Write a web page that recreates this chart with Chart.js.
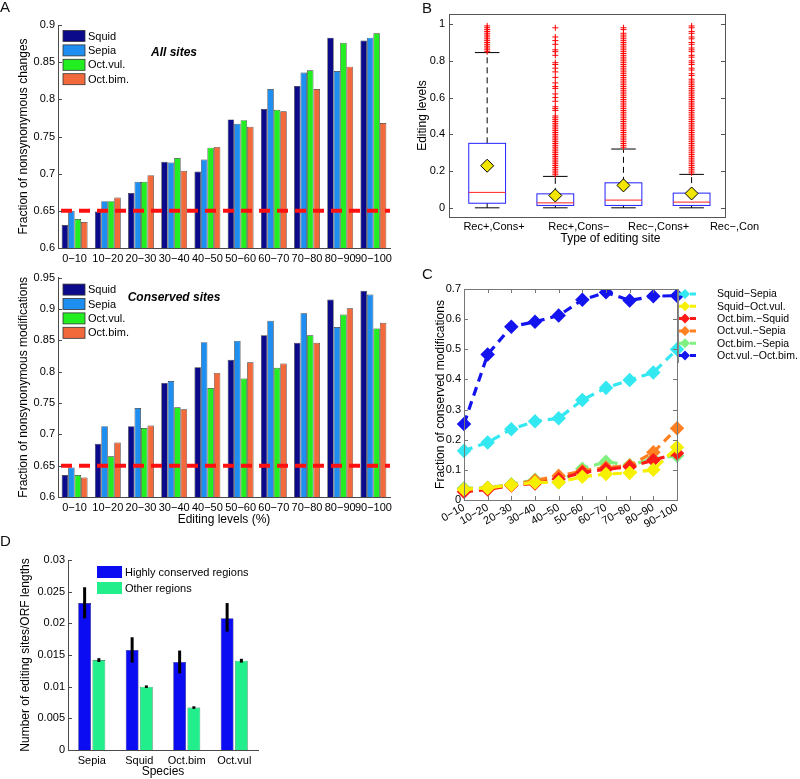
<!DOCTYPE html>
<html><head><meta charset="utf-8">
<script src="https://cdn.jsdelivr.net/npm/chart.js@4/dist/chart.umd.min.js"></script>
<style>
body{margin:0;background:#fff;}
#wrap{position:relative;width:800px;height:779px;overflow:hidden;background:#fff;font-family:'Liberation Sans',Arial,sans-serif}
canvas{position:absolute}
.lab{position:absolute;font-size:15px;line-height:15px;color:#111}
</style></head><body>
<div id="wrap">
<canvas id="cA1" width="400" height="268" style="left:0;top:0"></canvas>
<canvas id="cA2" width="400" height="262" style="left:0;top:268px"></canvas>
<canvas id="cB" width="400" height="250" style="left:400px;top:0"></canvas>
<canvas id="cC" width="400" height="280" style="left:400px;top:250px"></canvas>
<canvas id="cD" width="400" height="249" style="left:0;top:530px"></canvas>
<div class="lab" style="left:0;top:-1px">A</div>
<div class="lab" style="left:422px;top:0px">B</div>
<div class="lab" style="left:422px;top:266px">C</div>
<div class="lab" style="left:0;top:533px">D</div>
</div>
<script>
// ---------- DATA ----------
const bins = ['0−10','10−20','20−30','30−40','40−50','50−60','60−70','70−80','80−90','90−100'];
const speciesA = ['Squid','Sepia','Oct.vul.','Oct.bim.'];
const allSquid  = [0.631,0.649,0.674,0.716,0.703,0.773,0.787,0.818,0.883,0.879];
const allSepia  = [0.650,0.663,0.689,0.715,0.719,0.767,0.814,0.836,0.838,0.883];
const allOctVul = [0.639,0.663,0.689,0.721,0.735,0.772,0.786,0.839,0.876,0.889];
const allOctBim = [0.635,0.668,0.698,0.704,0.736,0.763,0.784,0.814,0.844,0.768];
const consSquid  = [0.635,0.685,0.713,0.782,0.807,0.819,0.858,0.846,0.915,0.929];
const consSepia  = [0.647,0.713,0.742,0.785,0.847,0.849,0.881,0.893,0.871,0.923];
const consOctVul = [0.635,0.665,0.710,0.743,0.774,0.789,0.806,0.858,0.891,0.869];
const consOctBim = [0.631,0.687,0.714,0.740,0.798,0.815,0.813,0.846,0.901,0.878];
const refLevel = 0.65;

const siteTypes = ['Rec+,Cons+','Rec+,Cons−','Rec−,Cons+','Rec−,Con'];
const siteLabelPos = [1.10,2.345,3.516,4.63];
const boxLo   = [0,0,0,0];
const boxQ1   = [0.025,0.013,0.013,0.013];
const boxMed  = [0.084,0.027,0.042,0.031];
const boxQ3   = [0.351,0.076,0.136,0.080];
const boxHi   = [0.845,0.171,0.320,0.182];
const boxMean = [0.229,0.067,0.122,0.078];
const yTicksB = [0,0.2,0.4,0.6,0.8,1];
const out1 = [0.85,0.86,0.87,0.88,0.89,0.90,0.91,0.92,0.93,0.94,0.95,0.96,0.97,0.98,0.99];
const out2 = [0.18,0.19,0.20,0.21,0.22,0.23,0.24,0.25,0.26,0.27,0.28,0.29,0.30,0.31,0.32,0.33,0.34,0.35,0.36,0.37,0.38,0.39,0.40,0.41,0.42,0.43,0.44,0.45,0.46,0.47,0.48,0.49,0.50,0.53,0.54,0.55,0.58,0.60,0.62,0.65,0.66,0.68,0.71,0.74,0.76,0.78,0.79,0.83,0.85,0.86,0.89,0.91,0.93,0.98];
const out3 = [0.33,0.34,0.35,0.36,0.37,0.38,0.39,0.40,0.41,0.42,0.43,0.44,0.45,0.46,0.47,0.48,0.49,0.50,0.51,0.52,0.53,0.54,0.55,0.56,0.57,0.58,0.59,0.60,0.61,0.62,0.63,0.64,0.65,0.66,0.67,0.68,0.69,0.70,0.71,0.72,0.73,0.74,0.75,0.76,0.77,0.78,0.79,0.80,0.81,0.82,0.83,0.84,0.85,0.86,0.87,0.88,0.89,0.90,0.91,0.92,0.93,0.94,0.95,0.97,0.98];
const out4 = [0.19,0.20,0.21,0.22,0.23,0.24,0.25,0.26,0.27,0.28,0.29,0.30,0.31,0.32,0.33,0.34,0.35,0.36,0.37,0.38,0.39,0.40,0.41,0.42,0.43,0.44,0.45,0.46,0.47,0.48,0.49,0.50,0.51,0.52,0.53,0.54,0.55,0.56,0.57,0.58,0.59,0.60,0.61,0.62,0.63,0.64,0.65,0.66,0.67,0.68,0.69,0.70,0.72,0.73,0.75,0.76,0.78,0.79,0.80,0.82,0.83,0.85,0.86,0.87,0.89,0.90,0.92,0.93,0.95,0.96,0.98,0.99];

const pairLabels = ['Squid−Sepia','Squid−Oct.vul.','Oct.bim.−Squid','Oct.vul.−Sepia','Oct.bim.−Sepia','Oct.vul.−Oct.bim.'];
const squidSepia   = [0.163,0.191,0.235,0.261,0.271,0.332,0.372,0.398,0.423,0.500];
const squidOctVul  = [0.035,0.040,0.050,0.058,0.059,0.077,0.086,0.090,0.100,0.175];
const octBimSquid  = [0.027,0.035,0.048,0.055,0.070,0.091,0.102,0.110,0.132,0.155];
const octVulSepia  = [0.035,0.040,0.050,0.065,0.080,0.096,0.108,0.114,0.158,0.238];
const octBimSepia  = [0.039,0.041,0.052,0.067,0.059,0.104,0.127,0.116,0.136,0.147];
const octVulOctBim = [0.252,0.483,0.575,0.591,0.612,0.664,0.689,0.662,0.676,0.678];

const speciesD = ['Sepia','Squid','Oct.bim','Oct.vul'];
const regionLabels = ['Highly conserved regions','Other regions'];
const consRate  = [0.0232,0.0158,0.0139,0.0208];
const consErrLo = [0.0208,0.0138,0.0121,0.0187];
const consErrHi = [0.0257,0.0178,0.0157,0.0232];
const otherRate  = [0.0142,0.0100,0.0067,0.0141];
const otherErrLo = [0.0139,0.0098,0.0065,0.0138];
const otherErrHi = [0.0145,0.0102,0.0069,0.0144];

// ---------- STYLE ----------
const FONT = "'Liberation Sans', Arial, Helvetica, sans-serif";
Chart.defaults.font.family = FONT;
Chart.defaults.font.size = 11;
Chart.defaults.color = '#000';
const AX = '#4a4a4a';
const colA = ['#0a0a8a','#1e8ff0','#22ee22','#f26a3c'];
const colC = ['#33e8f0','#f7f000','#ff1a1a','#ff8020','#80f080','#1414f0'];
const fmt = v => String(Math.round(v*10000)/10000);
const noGrid = {display:false, drawTicks:false};

// ---------- PLUGINS ----------
const refLine = {id:'refLine', afterDatasetsDraw(chart,a,o){
  const {ctx, chartArea:ca, scales:{y}} = chart; const py = y.getPixelForValue(o.value);
  ctx.save(); ctx.strokeStyle=o.color; ctx.lineWidth=o.width; ctx.setLineDash(o.dash);
  ctx.beginPath(); ctx.moveTo(ca.left+3,py); ctx.lineTo(ca.right,py); ctx.stroke(); ctx.restore();
}};
const boxLegend = {id:'boxLegend', afterDraw(chart,a,o){
  const {ctx, chartArea:ca} = chart; ctx.save();
  chart.data.datasets.forEach((ds,i)=>{
    const x = ca.left+o.x, y = ca.top+o.y+i*o.dy;
    ctx.fillStyle = ds.backgroundColor; ctx.fillRect(x,y-o.h/2,o.w,o.h);
    if(o.stroke){ctx.strokeStyle=o.stroke; ctx.lineWidth=0.8; ctx.strokeRect(x,y-o.h/2,o.w,o.h);}
    ctx.fillStyle='#000'; ctx.font=o.fontStr; ctx.textBaseline='middle'; ctx.textAlign='left';
    ctx.fillText(ds.label, x+o.w+3, y+0.5);
  });
  if(o.title){ ctx.font='italic bold 12px '+FONT; ctx.textAlign='center'; ctx.textBaseline='middle';
    ctx.fillText(o.title, ca.left+o.tx, ca.top+o.ty); }
  ctx.restore();
}};
const inTicks = {id:'inTicks', afterDraw(chart,a,o){
  const {ctx, chartArea:ca, scales} = chart; const L=o.len||4; ctx.save();
  ctx.strokeStyle=o.color||AX; ctx.lineWidth=1;
  if(o.frame){ctx.strokeRect(Math.round(ca.left)+0.5,Math.round(ca.top)+0.5,Math.round(ca.right-ca.left),Math.round(ca.bottom-ca.top));}
  const y=scales.y; ctx.beginPath();
  y.ticks.forEach((t,i)=>{const py=Math.round(y.getPixelForValue(t.value))+0.5;
    ctx.moveTo(ca.left,py); ctx.lineTo(ca.left+L,py);
    if(o.right){ctx.moveTo(ca.right,py); ctx.lineTo(ca.right-L,py);} });
  if(o.xticks){const x=scales.x; x.ticks.forEach((t,i)=>{const px=Math.round(x.getPixelForTick(i))+0.5;
    ctx.moveTo(px,ca.bottom); ctx.lineTo(px,ca.bottom-L);
    if(o.frame){ctx.moveTo(px,ca.top); ctx.lineTo(px,ca.top+L);} });}
  ctx.stroke(); ctx.restore();
}};
const boxPlot = {id:'boxPlot', beforeDatasetsDraw(chart){
  const {ctx, scales:{x,y}} = chart; ctx.save();
  const hw = (x.getPixelForValue(1.27)-x.getPixelForValue(1));
  const cw = (x.getPixelForValue(1.18)-x.getPixelForValue(1));
  boxQ1.forEach((q1,i)=>{
    const cx = x.getPixelForValue(i+1);
    const pLo=y.getPixelForValue(boxLo[i]), pQ1=y.getPixelForValue(q1), pMed=y.getPixelForValue(boxMed[i]),
          pQ3=y.getPixelForValue(boxQ3[i]), pHi=y.getPixelForValue(boxHi[i]);
    ctx.strokeStyle='#000'; ctx.lineWidth=1; ctx.setLineDash([6,4]);
    ctx.beginPath(); ctx.moveTo(cx,pQ3); ctx.lineTo(cx,pHi); ctx.moveTo(cx,pQ1); ctx.lineTo(cx,pLo); ctx.stroke();
    ctx.setLineDash([]);
    ctx.beginPath(); ctx.moveTo(cx-cw,pHi); ctx.lineTo(cx+cw,pHi); ctx.moveTo(cx-cw,pLo); ctx.lineTo(cx+cw,pLo); ctx.stroke();
    ctx.strokeStyle='#2020ff'; ctx.strokeRect(cx-hw,pQ3,2*hw,pQ1-pQ3);
    ctx.strokeStyle='#ff2020'; ctx.beginPath(); ctx.moveTo(cx-hw,pMed); ctx.lineTo(cx+hw,pMed); ctx.stroke();
  });
  ctx.restore();
}, afterDraw(chart){
  const {ctx, chartArea:ca, scales:{x}} = chart; ctx.save();
  ctx.fillStyle='#000'; ctx.font='11px '+FONT; ctx.textAlign='center'; ctx.textBaseline='middle';
  siteTypes.forEach((s,i)=>ctx.fillText(s, x.getPixelForValue(siteLabelPos[i]), ca.bottom+10));
  ctx.font='12px '+FONT;
  const mid = siteLabelPos.reduce((a,b)=>a+b,0)/siteLabelPos.length;
  ctx.fillText('Type of editing site', x.getPixelForValue(mid)-6, ca.bottom+22);
  ctx.restore();
}};
const lineLegend = {id:'lineLegend', afterDraw(chart,a,o){
  const {ctx, chartArea:ca} = chart; ctx.save();
  ctx.strokeStyle='#888'; ctx.lineWidth=2; ctx.beginPath(); ctx.moveTo(ca.right+1,ca.top); ctx.lineTo(ca.right+1,ca.top+o.frameH); ctx.stroke();
  chart.data.datasets.forEach((ds,i)=>{
    const y = ca.top+o.y+i*o.dy, x = ca.right+o.x;
    ctx.strokeStyle=ds.borderColor; ctx.lineWidth=3; ctx.setLineDash([6,5]);
    ctx.beginPath(); ctx.moveTo(x,y); ctx.lineTo(x+22,y); ctx.stroke(); ctx.setLineDash([]);
    ctx.fillStyle=ds.borderColor; ctx.beginPath(); ctx.moveTo(x+6,y-5); ctx.lineTo(x+11,y); ctx.lineTo(x+6,y+5); ctx.lineTo(x+1,y); ctx.closePath(); ctx.fill();
    ctx.fillStyle='#000'; ctx.font='10.5px '+FONT; ctx.textBaseline='middle'; ctx.textAlign='left';
    ctx.fillText(ds.label, x+o.tx, y+0.5);
  });
  ctx.restore();
}};
const errBars = {id:'errBars', afterDatasetsDraw(chart){
  const {ctx, scales:{y}} = chart; ctx.save(); ctx.strokeStyle='#000'; ctx.lineWidth=3;
  chart.data.datasets.forEach((ds,i)=>{ const meta=chart.getDatasetMeta(i);
    meta.data.forEach((el,j)=>{ ctx.beginPath(); ctx.moveTo(el.x,y.getPixelForValue(ds.errLo[j])); ctx.lineTo(el.x,y.getPixelForValue(ds.errHi[j])); ctx.stroke(); }); });
  ctx.restore();
}};

const base = {responsive:false, animation:false, devicePixelRatio:1};
const noLeg = {legend:{display:false}, tooltip:{enabled:false}};

function panelA(id, vals, ymax, ytitle, title, pad, xh, xtitle, legY, titleY){
  return new Chart(document.getElementById(id), {
    type:'bar',
    data:{labels:bins, datasets: vals.map((v,i)=>({label:speciesA[i], data:v, backgroundColor:colA[i], borderColor:'#333', borderWidth:0.7, categoryPercentage:0.78, barPercentage:1}))},
    options:{...base, layout:{padding:pad},
      plugins:{...noLeg, refLine:{value:refLevel,color:'#ff1010',width:4,dash:[11,7]},
        boxLegend:{x:5,y:legY,dy:14.4,w:22,h:11,stroke:'#333',fontStr:'11px '+FONT,title:title,tx:116,ty:titleY}},
      scales:{
        x:{grid:noGrid, border:{color:AX}, ticks:{autoSkip:false,maxRotation:0,minRotation:0,padding:4,font:{size:11}},
           title:{display:!!xtitle, text:xtitle, font:{size:12}, padding:{top:0,bottom:3}}, afterFit:s=>{s.height=xh;}},
        y:{min:0.6, max:ymax, grid:noGrid, border:{color:AX}, ticks:{stepSize:0.05,padding:3,font:{size:11},callback:fmt},
           title:{display:true, text:ytitle, font:{size:12}, padding:0}, afterFit:s=>{s.width=42;}}
      }},
    plugins:[refLine, boxLegend, inTicks]
  });
}
panelA('cA1',[allSquid,allSepia,allOctVul,allOctBim],0.9,'Fraction of nonsynonymous changes','All sites',{left:16,right:10,top:25,bottom:0},20,'',11,28);
panelA('cA2',[consSquid,consSepia,consOctVul,consOctBim],0.95,'Fraction of nonsynonymous modifications','Conserved sites',{left:16,right:10,top:6,bottom:0},33,'Editing levels (%)',12,20);

// B
new Chart(document.getElementById('cB'), {
  type:'scatter',
  data:{datasets:[
    {label:'mean', data:boxMean.map((v,i)=>({x:i+1,y:v})), pointStyle:'rectRot', pointRadius:6.5, backgroundColor:'#f2e600', borderColor:'#000', borderWidth:1},
    {label:'outliers', data:[out1,out2,out3,out4].flatMap((arr,i)=>arr.map(v=>({x:i+1,y:v}))), pointStyle:'cross', pointRadius:3, borderColor:'#ff0000', borderWidth:1}
  ]},
  options:{...base, layout:{padding:{left:15,top:14,right:75,bottom:0}},
    plugins:{...noLeg, inTicks:{frame:true,right:true,color:'#555'}},
    scales:{
      x:{type:'linear', min:0.44, max:4.49, grid:noGrid, ticks:{display:false}, border:{color:'#555'}, afterFit:s=>{s.height=33;}},
      y:{min:-0.05, max:1.055, grid:noGrid, border:{color:'#555'},
         afterBuildTicks:s=>{s.ticks=yTicksB.map(v=>({value:v}));}, ticks:{padding:4, callback:fmt},
         title:{display:true,text:'Editing levels',font:{size:12},padding:0}, afterFit:s=>{s.width=34;}}
    }},
  plugins:[boxPlot, inTicks]
});

// C
new Chart(document.getElementById('cC'), {
  type:'line',
  data:{labels:bins, datasets:[squidSepia,squidOctVul,octBimSquid,octVulSepia,octBimSepia,octVulOctBim].map((v,i)=>({
    label:pairLabels[i], data:v, borderColor:colC[i], backgroundColor:colC[i], borderWidth:3.2, borderDash:[9,6],
    pointStyle:'rectRot', pointRadius:5, pointBackgroundColor:colC[i], pointBorderColor:colC[i], tension:0}))},
  options:{...base, layout:{padding:{left:33,top:39,right:123,bottom:0}},
    plugins:{...noLeg, lineLegend:{x:2,y:5,dy:12.3,tx:38,frameH:74}, inTicks:{frame:true,right:true,xticks:true,color:'#777'}},
    scales:{
      x:{offset:false, grid:noGrid, border:{color:'#777'}, ticks:{autoSkip:false,maxRotation:30,minRotation:30,align:'center',padding:1,font:{size:11}}, afterFit:s=>{s.height=30;}},
      y:{min:0, max:0.7, grid:noGrid, border:{color:'#777'}, ticks:{stepSize:0.1,padding:3,callback:fmt},
         title:{display:true,text:'Fraction of conserved modifications',font:{size:12},padding:0}, afterFit:s=>{s.width=31;}}
    }},
  plugins:[lineLegend, inTicks]
});

// D
new Chart(document.getElementById('cD'), {
  type:'bar',
  data:{labels:speciesD, datasets:[
    {label:regionLabels[0], data:consRate, errLo:consErrLo, errHi:consErrHi, backgroundColor:'#0c0cf2', borderColor:'#1a1a60', borderWidth:0.6, categoryPercentage:0.6, barPercentage:0.9},
    {label:regionLabels[1], data:otherRate, errLo:otherErrLo, errHi:otherErrHi, backgroundColor:'#22ee8c', borderColor:'#2a6a4a', borderWidth:0.6, categoryPercentage:0.6, barPercentage:0.9}
  ]},
  options:{...base, layout:{padding:{left:18,top:30,right:142,bottom:0}},
    plugins:{...noLeg, boxLegend:{x:29,y:12,dy:16,w:25,h:12,fontStr:'11px '+FONT}},
    scales:{
      x:{grid:noGrid, border:{color:AX}, ticks:{padding:4,font:{size:11}}, title:{display:true,text:'Species',font:{size:12},padding:0}, afterFit:s=>{s.height=29;}},
      y:{min:0, max:0.03, grid:noGrid, border:{color:AX}, ticks:{stepSize:0.005,padding:3,callback:fmt},
         title:{display:true,text:'Number of editing sites/ORF lengths',font:{size:12},padding:0}, afterFit:s=>{s.width=50;}}
    }},
  plugins:[errBars, boxLegend, inTicks]
});
</script>
</body></html>
